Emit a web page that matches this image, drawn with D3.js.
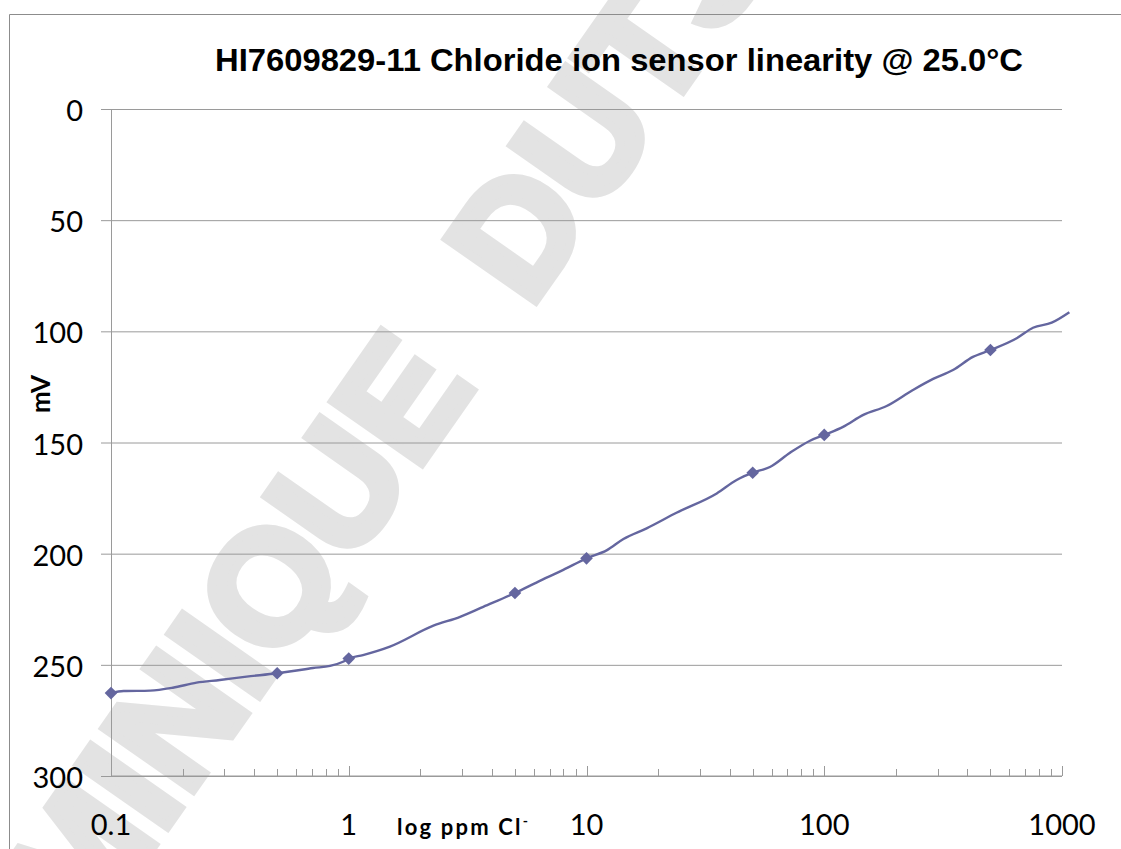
<!DOCTYPE html>
<html>
<head>
<meta charset="utf-8">
<script src="https://cdn.jsdelivr.net/npm/d3@7"></script>
<style>
  html, body { margin: 0; padding: 0; background: #fff; }
  svg { display: block; }
</style>
</head>
<body>
<svg id="chart" width="1121" height="849"></svg>
<script>
// Electrode response curve (mV) against chloride concentration (ppm, log scale)
const curvePpm = [0.1, 0.113, 0.146, 0.182, 0.229, 0.287, 0.372, 0.5, 0.583, 0.707, 0.834, 0.946, 1,
  1.148, 1.49, 2.27, 2.94, 3.68, 5, 6.27, 7.99, 10, 12.2, 14.3, 17.9, 23.9, 35.3, 42.8, 50,
  59.1, 71.8, 87.1, 100, 120, 146, 183, 236, 287, 348, 422, 500, 645, 755, 905, 1074];
const curveMv = [262.7, 261.8, 261.6, 260.3, 258.0, 256.8, 255.3, 253.8, 252.8, 251.4, 250.5, 248.6, 247.2,
  245.6, 241.8, 232.4, 228.4, 223.9, 217.7, 212.6, 207.3, 202.1, 198.4, 193.4, 188.6, 181.6, 172.9, 166.9, 163.6,
  161.0, 154.6, 149.2, 146.6, 143.0, 137.6, 133.6, 126.4, 121.4, 117.4, 111.5, 108.4, 103.1, 98.4, 96.1, 91.4];

// Calibration standards
const standardPpm = [0.1, 0.5, 1, 5, 10, 50, 100, 500];
const standardMv = [262.7, 253.8, 247.2, 217.7, 202.1, 163.6, 146.6, 108.4];

const xTickValues = [0.1, 1, 10, 100, 1000];
const xTickLabels = ["0.1", "1", "10", "100", "1000"];
const yTickValues = [0, 50, 100, 150, 200, 250, 300];

const titleText = "HI7609829-11 Chloride ion sensor linearity @ 25.0°C";
const watermarkWords = ["DOMINIQUE", "DUTSCHER"];

const svg = d3.select("#chart");
const W = 1121, H = 849;
const plot = { left: 111, right: 1062, top: 109, bottom: 776 };
const lineColor = "#64669f";
const gridColor = "#9a9a9a";
const labelFont = "Lato, 'Open Sans', sans-serif";
const headFont = "'Liberation Sans', Arial, Helvetica, sans-serif";

const x = d3.scaleLog().domain([0.1, 1000]).range([plot.left, plot.right]);
const y = d3.scaleLinear().domain([0, 300]).range([plot.top, plot.bottom]);

// background watermark, heavy grey lettering across the page
const wm = svg.append("text")
  .attr("transform", "translate(-52,1140) rotate(-55)")
  .attr("font-family", headFont)
  .attr("font-weight", "bold")
  .attr("font-size", 158)
  .attr("letter-spacing", 1)
  .attr("fill", "#e3e3e3")
  .attr("stroke", "#e3e3e3")
  .attr("stroke-width", 9)
  .attr("stroke-linejoin", "miter");
wm.append("tspan").text(watermarkWords[0] + " ");
wm.append("tspan").attr("dx", 47).text(watermarkWords[1]);

// outer frame
svg.append("path")
  .attr("d", `M9.5,${H} V14.5 H${W}`)
  .attr("fill", "none")
  .attr("stroke", "#8c8c8c")
  .attr("stroke-width", 1);

// title
svg.append("text")
  .attr("x", 215).attr("y", 71)
  .attr("font-family", headFont)
  .attr("font-weight", "bold")
  .attr("font-size", 31)
  .attr("textLength", 808)
  .attr("lengthAdjust", "spacingAndGlyphs")
  .attr("fill", "#000")
  .text(titleText);

// horizontal gridlines with y axis ticks
const yAxis = d3.axisLeft(y).tickValues(yTickValues)
  .tickSize(-(plot.right - plot.left)).tickSizeOuter(0).tickPadding(28)
  .tickFormat(d3.format("d"));
const gy = svg.append("g").attr("transform", `translate(${plot.left},0)`).call(yAxis);
gy.select(".domain").remove();
gy.selectAll(".tick line").attr("stroke", gridColor).attr("x1", -10);
gy.selectAll(".tick text")
  .attr("font-family", labelFont).attr("font-size", 29).attr("fill", "#000")
  .attr("dy", "0.4em");

// y axis line
svg.append("line")
  .attr("x1", plot.left + 0.5).attr("x2", plot.left + 0.5)
  .attr("y1", plot.top).attr("y2", plot.bottom)
  .attr("stroke", gridColor);

// x axis: baseline, minor and major ticks pointing into the plot
const gx = svg.append("g").attr("transform", `translate(0,${plot.bottom})`);
gx.append("line")
  .attr("x1", plot.left).attr("x2", plot.right)
  .attr("stroke", gridColor);
const minorTicks = [];
for (let dec = 0.1; dec < 1000; dec *= 10) {
  for (let k = 2; k <= 9; k++) minorTicks.push(+(dec * k).toPrecision(3));
}
gx.selectAll("line.minor").data(minorTicks).join("line")
  .attr("class", "minor")
  .attr("x1", d => Math.round(x(d)) + 0.5).attr("x2", d => Math.round(x(d)) + 0.5)
  .attr("y1", 0).attr("y2", -7)
  .attr("stroke", gridColor);
gx.selectAll("line.major").data(xTickValues).join("line")
  .attr("class", "major")
  .attr("x1", d => Math.round(x(d)) + 0.5).attr("x2", d => Math.round(x(d)) + 0.5)
  .attr("y1", 0).attr("y2", -10)
  .attr("stroke", gridColor);
gx.selectAll("text.tl").data(xTickValues).join("text")
  .attr("class", "tl")
  .attr("x", d => x(d)).attr("y", 59)
  .attr("text-anchor", "middle")
  .attr("font-family", labelFont).attr("font-size", 29).attr("fill", "#000")
  .text((d, i) => xTickLabels[i]);

// axis titles
const xt = svg.append("text")
  .attr("x", 397).attr("y", 835)
  .attr("font-family", labelFont).attr("font-weight", "bold")
  .attr("font-size", 22).attr("letter-spacing", 2.2).attr("fill", "#000");
xt.append("tspan").text("log ppm Cl");
xt.append("tspan").attr("dy", -9).attr("font-size", 14).text("-");

svg.append("text")
  .attr("transform", "translate(50,394) rotate(-90)")
  .attr("text-anchor", "middle")
  .attr("font-family", labelFont).attr("font-weight", "bold")
  .attr("font-size", 26).attr("fill", "#000")
  .text("mV");

// response curve
const curve = curvePpm.map((p, i) => [p, curveMv[i]]);
svg.append("path")
  .datum(curve)
  .attr("fill", "none")
  .attr("stroke", lineColor)
  .attr("stroke-width", 2.4)
  .attr("stroke-linejoin", "round")
  .attr("d", d3.line().x(d => x(d[0])).y(d => y(d[1])).curve(d3.curveMonotoneX));

// standard points as diamonds
const diamond = d3.symbol(d3.symbolSquare, 80)();
svg.selectAll("path.std")
  .data(standardPpm.map((p, i) => [p, standardMv[i]]))
  .join("path")
  .attr("class", "std")
  .attr("d", diamond)
  .attr("transform", d => `translate(${x(d[0])},${y(d[1])}) rotate(45)`)
  .attr("fill", lineColor);
</script>
</body>
</html>
